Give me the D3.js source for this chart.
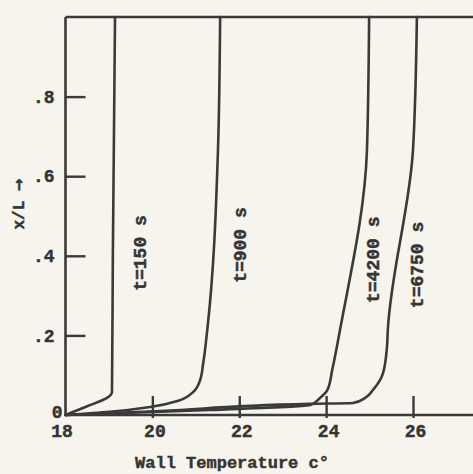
<!DOCTYPE html>
<html>
<head>
<meta charset="utf-8">
<script src="https://cdn.jsdelivr.net/npm/d3@7"></script>
<style>
  html, body { margin: 0; padding: 0; background: #f6f4ec; }
  svg { display: block; }
  text { font-family: "Liberation Mono", "DejaVu Sans Mono", monospace; font-weight: bold; fill: #343434; stroke: #343434; stroke-width: 0.45px; }
</style>
</head>
<body>
<svg id="chart" width="473" height="474"></svg>
<script>
// ---- data ----
const xTickValues = [18, 20, 22, 24, 26];
const xTickLabels = ["18", "20", "22", "24", "26"];
const yTickValues = [0, 0.2, 0.4, 0.6, 0.8];
const yTickLabels = ["0", ".2", ".4", ".6", ".8"];
const seriesNames = ["t=150 s", "t=900 s", "t=4200 s", "t=6750 s"];
// wall temperature (°C) vs x/L for each time
const t150 = [
  [18.0, 0.0], [18.5, 0.022], [18.955, 0.043], [19.07, 0.058], [19.09, 0.40], [19.14, 1.0]
];
const t900 = [
  [18.0, 0.0], [19.02, 0.008], [19.95, 0.02], [20.6, 0.036], [20.94, 0.058], [21.1, 0.088],
  [21.17, 0.13], [21.26, 0.21], [21.51, 0.666], [21.56, 1.0]
];
const t4200 = [
  [18.0, 0.0], [21.33, 0.0126], [23.63, 0.025], [23.86, 0.043], [24.03, 0.063], [24.14, 0.113],
  [24.32, 0.214], [24.94, 0.666], [24.99, 1.0]
];
const t6750 = [
  [18.0, 0.0], [20.18, 0.01], [23.63, 0.028], [24.62, 0.03], [24.9, 0.043], [25.08, 0.063],
  [25.31, 0.105], [25.4, 0.17], [25.42, 0.214], [26.0, 0.666], [26.09, 1.0]
];
const seriesData = [t150, t900, t4200, t6750];
const labelLevels = [0.407, 0.427, 0.39, 0.377];   // x/L at which each curve label sits
const xTitle = "Wall Temperature c°";
const yTitle = "x/L";

// ---- layout ----
const W = 473, H = 474;
const ink = "#3a3a3a";
const svg = d3.select("#chart");
svg.append("rect").attr("width", W).attr("height", H).attr("fill", "#f6f4ec");

const x = d3.scaleLinear().domain([18, 26]).range([65.5, 413]);
const y = d3.scaleLinear().domain([0, 1]).range([415, 17]);

// frame
const frame = svg.append("g").attr("stroke", ink).attr("stroke-width", 2.6).attr("fill", "none");
frame.append("line").attr("x1", x(18)).attr("x2", x(18)).attr("y1", y(0) + 1).attr("y2", y(1));
frame.append("line").attr("x1", x(18)).attr("x2", W).attr("y1", y(0)).attr("y2", y(0));
frame.append("line").attr("x1", x(18)).attr("x2", W).attr("y1", y(1)).attr("y2", y(1));

// x axis
const xAxis = d3.axisBottom(x).tickValues(xTickValues)
  .tickFormat((d, i) => xTickLabels[i]).tickSizeInner(-19).tickSizeOuter(0).tickPadding(0);
const gx = svg.append("g").attr("transform", `translate(0,${y(0)})`).call(xAxis);
gx.select(".domain").remove();
gx.selectAll(".tick line").attr("stroke", ink).attr("stroke-width", 2.4)
  .attr("y1", 3).attr("y2", -19)
  .filter(d => d === 18).remove();
gx.selectAll(".tick text").attr("y", 9).attr("dy", "0.71em")
  .attr("font-size", 18).attr("fill", "#343434")
  .attr("dx", d => d === 18 ? -4 : 2);

// y axis
const yAxis = d3.axisLeft(y).tickValues(yTickValues)
  .tickFormat((d, i) => yTickLabels[i]).tickSizeInner(-20).tickSizeOuter(0).tickPadding(0);
const gy = svg.append("g").attr("transform", `translate(${x(18)},0)`).call(yAxis);
gy.select(".domain").remove();
gy.selectAll(".tick line").attr("stroke", ink).attr("stroke-width", 2.4)
  .filter(d => d === 0).remove();
gy.selectAll(".tick text").attr("x", d => d === 0 ? -3 : -11)
  .attr("dy", d => d === 0 ? "0.15em" : "0.32em")
  .attr("font-size", 18).attr("fill", "#343434");

// curves (parametrised along the height so the steep parts stay smooth)
const line = d3.line().x(d => x(d[0])).y(d => y(d[1])).curve(d3.curveMonotoneY);
svg.append("g").selectAll("path").data(seriesData).join("path")
  .attr("d", d => line(d.slice().reverse())).attr("fill", "none").attr("stroke", ink)
  .attr("stroke-width", 2.6).attr("stroke-linejoin", "round").attr("stroke-linecap", "round");

// curve labels, placed to the right of each curve
const labelOffsets = [27, 27, 22, 20];
function xAtLevel(data, v) {
  for (let i = 1; i < data.length; i++) {
    const a = data[i - 1], b = data[i];
    if (v >= a[1] && v <= b[1]) return a[0] + (b[0] - a[0]) * (v - a[1]) / (b[1] - a[1]);
  }
  return data[data.length - 1][0];
}
seriesNames.forEach((name, i) => {
  const px = x(xAtLevel(seriesData[i], labelLevels[i])) + labelOffsets[i];
  const py = y(labelLevels[i]);
  svg.append("text").attr("transform", `translate(${px},${py}) rotate(-90)`)
    .attr("text-anchor", "middle").attr("dy", "0.35em").attr("font-size", 18).text(name);
});

// axis titles
svg.append("text").attr("x", 232).attr("y", 468).attr("text-anchor", "middle")
  .attr("font-size", 17).text(xTitle);
const yt = svg.append("text").attr("transform", `translate(18,${y(0.53)}) rotate(-90)`)
  .attr("text-anchor", "middle").attr("dy", "0.35em").attr("font-size", 16);
yt.append("tspan").text(yTitle + " ");
yt.append("tspan").attr("font-family", "DejaVu Sans").attr("font-size", 15).text("→");
</script>
</body>
</html>
